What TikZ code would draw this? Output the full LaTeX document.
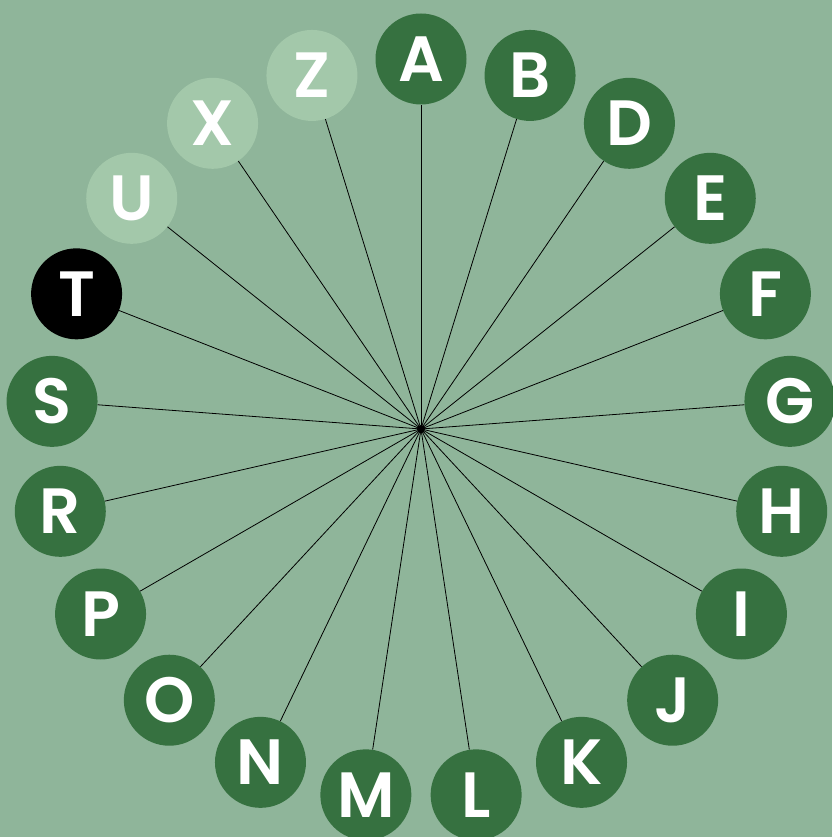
\documentclass[tikz,border=0pt]{standalone}
\usepackage{fontspec}
\newfontfamily\lettfont{Poppins SemiBold}
\definecolor{bg}{HTML}{8FB59A}
\definecolor{dkgreen}{HTML}{367140}
\definecolor{ltgreen}{HTML}{A3C8AA}
\tikzset{
  letter/.style={circle, minimum size=91pt, inner sep=0pt, text=white,
    font=\lettfont\fontsize{64}{64}\selectfont},
  spoke/.style={draw=black, line width=0.8pt}
}
\begin{document}
\begin{tikzpicture}[x=1pt,y=1pt]
\useasboundingbox (-421,-408) rectangle (411,429);
\fill[bg] (-421,-408) rectangle (411,429);
\coordinate (c) at (0,0);
\foreach \l [count=\i from 0] in {A,B,D,E,F,G,H,I,J,K,L,M,N,O,P,R,S,T,U,X,Z}{
  \pgfmathsetmacro{\ang}{90-\i*360/21}
  \ifnum\i<17
    \def\col{dkgreen}
  \else\ifnum\i=17
    \def\col{black}
  \else
    \def\col{ltgreen}
  \fi\fi
  \node[letter, fill=\col] (n\l) at (\ang:370) {\l};
  \draw[spoke] (c) -- (n\l);
}
\fill[black] (c) circle (4);
\end{tikzpicture}
\end{document}
